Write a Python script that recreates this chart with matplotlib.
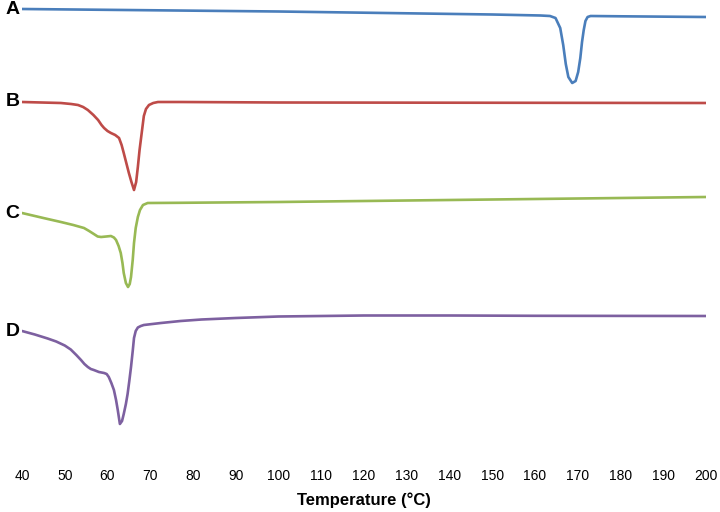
"""DSC thermograms A-D, stacked with offsets (heat flow in arbitrary units)."""

import matplotlib
matplotlib.use("Agg")
import matplotlib.pyplot as plt

plt.rcParams["font.family"] = ["Liberation Sans", "DejaVu Sans"]

# temperature (°C) and offset heat flow (a.u., endo down -> larger = lower)
temp_a = [40, 100, 150, 161.3, 163.5, 164.8, 165.9, 166.6, 167.2, 167.8, 168.7, 169.5, 170.1, 170.6, 171.0,
          171.4, 171.8, 172.3, 173, 180, 200]
flow_a = [9, 11.5, 14.5, 15.5, 16, 18, 28, 45, 64, 77, 83, 81, 72, 58, 42, 30, 21, 17, 16, 16.3, 17]

temp_b = [40, 49.1, 51.5, 53.1, 54.3, 55.4, 56.7, 57.8, 58.6, 59.2, 60, 60.8, 61.8, 62.7, 63.3, 63.8, 64.4,
          65, 65.6, 66.2, 66.7, 67.1, 67.5, 68, 68.5, 69, 69.7, 70.7, 71.8, 77, 100, 200]
flow_b = [102, 103, 104, 105, 107, 110, 115, 120, 125, 128, 131, 133, 135, 138, 145, 153, 163,
          173, 182, 190, 182, 167, 150, 133, 116, 109, 105, 103, 102, 102, 102.5, 103]

temp_c = [40, 45, 49.1, 52, 54.5, 55.7, 56.8, 57.7, 58.5, 59.7, 60.8, 61.5, 62, 62.6, 63.1, 63.5, 63.8,
          64.3, 64.8, 65.2, 65.5, 65.9, 66.2, 66.6, 67.1, 67.6, 68.3, 69.4, 77, 100, 150, 200]
flow_c = [213, 218, 222, 225, 228, 231, 234, 236.5, 237, 236.5, 236, 237.5, 240, 246, 253, 263, 273,
          283, 287, 284, 277, 260, 243, 228, 217, 210, 205, 203, 202.8, 202, 199.5, 197]

temp_d = [40, 43, 46, 48, 50, 51.4, 52.7, 53.8, 54.6, 55.4, 56.1, 56.8, 58, 59.2, 59.8, 60.3, 60.9, 61.5,
          62, 62.4, 62.9, 63.4, 63.8, 64.3, 64.7, 65.1, 65.5, 65.9, 66.2, 66.6, 67.1, 67.8, 68.5, 72.5,
          77.1, 82, 90, 100, 120, 140, 160, 200]
flow_d = [331, 334.5, 338.5, 341.5, 345.5, 349.5, 355, 360, 364, 367, 369, 370, 372, 373, 374, 377, 383, 390,
          400, 410, 424, 421, 414, 404, 394, 381, 367, 351, 338, 331, 327.5, 326, 325, 323,
          321, 319.5, 318, 316.5, 315.5, 315.5, 315.8, 316]

series = [
    ("A", temp_a, flow_a, "#4A7EBB"),
    ("B", temp_b, flow_b, "#BE4B48"),
    ("C", temp_c, flow_c, "#98B954"),
    ("D", temp_d, flow_d, "#7D60A0"),
]
x_ticks = list(range(40, 201, 10))


def main():
    fig = plt.figure(figsize=(7.2, 5.12), dpi=100)
    ax = fig.add_axes([22 / 720, 57 / 512, 684 / 720, 455 / 512])

    for name, t, f, color in series:
        ax.plot(t, f, color=color, lw=1.9, solid_capstyle="round", solid_joinstyle="round")
        ax.text(-0.004, f[0], name, transform=ax.get_yaxis_transform(),
                ha="right", va="center", fontsize=14, fontweight="bold")

    ax.set_xlim(40, 200)
    ax.set_ylim(455, 0)
    ax.set_xticks(x_ticks)
    ax.tick_params(axis="x", length=0, labelsize=10, pad=10)
    ax.set_yticks([])
    for s in ax.spines.values():
        s.set_visible(False)
    ax.set_xlabel("Temperature (°C)", fontsize=12, fontweight="bold", labelpad=7)

    fig.savefig("out.png", dpi=100)


if __name__ == "__main__":
    main()
